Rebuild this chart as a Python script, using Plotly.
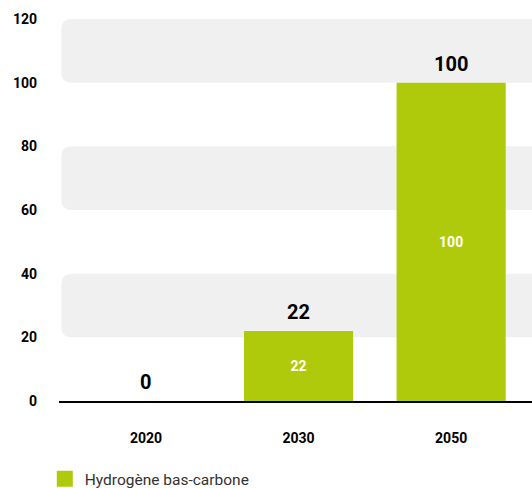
import plotly.graph_objects as go

categories = ["2020", "2030", "2050"]
values = [0, 22, 100]
series_name = "Hydrogène bas-carbone"
y_ticks = [0, 20, 40, 60, 80, 100, 120]
bands = [(20, 40), (60, 80), (100, 120)]

BAR_COLOR = "#AFCA0B"
BAND_COLOR = "#F0F0F0"

fig = go.Figure()
fig.add_trace(go.Bar(
    x=categories, y=values, name=series_name, showlegend=False,
    marker=dict(color=BAR_COLOR, line=dict(width=0)),
    width=0.715,
    text=[str(v) if v > 0 else "" for v in values],
    textposition="inside", insidetextanchor="middle",
    textfont=dict(family="Roboto", size=14, color="white", weight="bold"),
    hoverinfo="skip",
))
# legend entry
fig.add_trace(go.Scatter(
    x=[None], y=[None], mode="markers", name=series_name,
    marker=dict(symbol="square", size=16, color=BAR_COLOR),
))

for i, v in enumerate(values):
    fig.add_annotation(x=i, y=v, text=str(v), showarrow=False, yanchor="middle",
                       yshift=19,
                       font=dict(family="Roboto", size=20, color="black", weight="bold"))

# rounded background bands
r_x = 0.022
for lo, hi in bands:
    ry = 3.2
    x0 = 0.005
    path = (f"M 1.05 {lo} L {x0 + r_x} {lo} Q {x0} {lo} {x0} {lo + ry} "
            f"L {x0} {hi - ry} Q {x0} {hi} {x0 + r_x} {hi} L 1.05 {hi} Z")
    fig.add_shape(type="path", path=path, xref="x domain", yref="y",
                  fillcolor=BAND_COLOR, line=dict(width=0), layer="below")

fig.update_layout(
    width=532, height=488,
    margin=dict(l=59, r=0, t=19, b=87, autoexpand=False),
    paper_bgcolor="white", plot_bgcolor="white",
    showlegend=True,
    legend=dict(orientation="h", x=-0.03, y=-0.16, xanchor="left", yanchor="top",
                font=dict(family="Roboto", size=15.5, color="#333333"),
                itemwidth=30, tracegroupgap=0),
    font=dict(family="Roboto"),
)
fig.update_xaxes(
    type="category",
    range=[-0.57, 2.53], showgrid=False, showline=True, linecolor="black", linewidth=2,
    ticks="", tickfont=dict(family="Roboto", size=14, color="black", weight="bold"),
    ticklabelstandoff=23, zeroline=False, automargin=False,
)
fig.update_yaxes(
    range=[0, 120], tickvals=y_ticks, showgrid=False, zeroline=False, showline=False,
    ticks="", tickfont=dict(family="Roboto", size=14, color="black", weight="bold"),
    ticklabelstandoff=21, automargin=False,
)

fig.write_html(
    "out.html",
    config={"displayModeBar": False},
    post_script="document.body.style.margin='0';document.body.style.overflow='hidden';",
)
